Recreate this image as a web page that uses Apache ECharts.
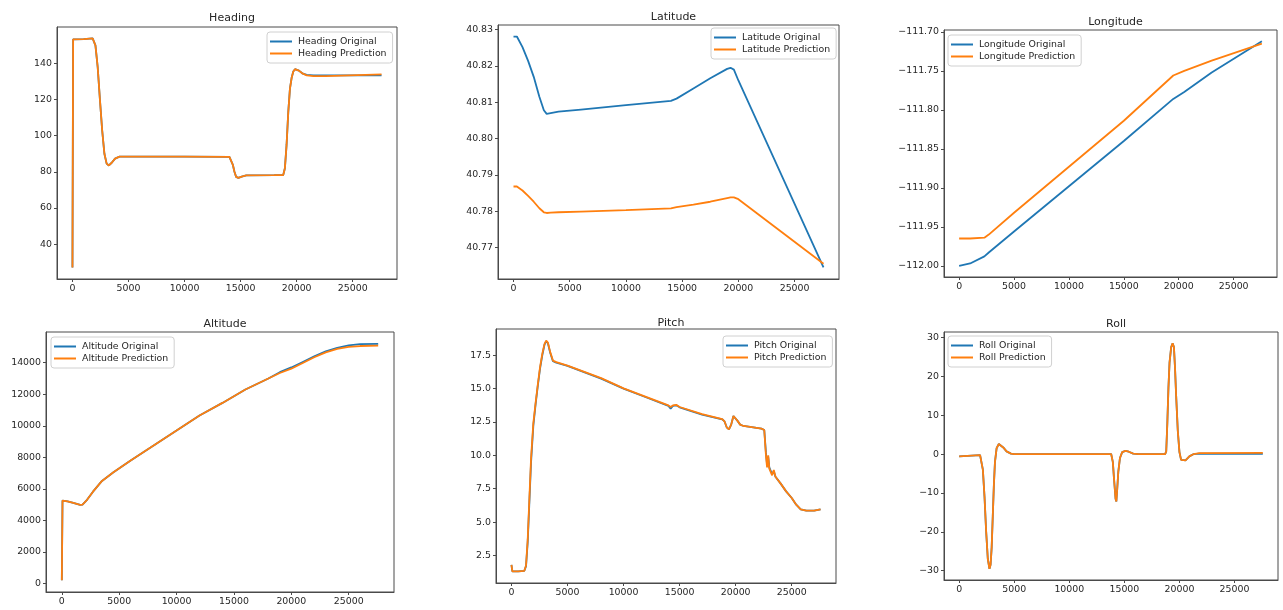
<!DOCTYPE html>
<html>
<head>
<meta charset="utf-8">
<script src="https://cdn.jsdelivr.net/npm/echarts@6/dist/echarts.min.js"></script>
<style>
html,body{margin:0;padding:0;background:#fff;}
#c{width:1283px;height:610px;}
</style>
</head>
<body>
<div id="c"></div>
<script>
// ---------------- DATA ----------------
const xTicks = [0, 5000, 10000, 15000, 20000, 25000];

const headingX    = [0, 60, 1000, 1800, 1900, 2050, 2250, 2450, 2650, 2850, 3050, 3250, 3500, 3800, 4200, 5000, 10000, 14000, 14150, 14300, 14450, 14600, 14800, 15100, 15500, 18000, 18800, 18950, 19100, 19250, 19400, 19550, 19700, 19850, 20000, 20200, 20500, 20900, 21500, 22600, 22700, 27570];
const headingOrig = [27, 153.3, 153.4, 153.8, 153.6, 150, 138, 120, 103, 90, 84.5, 83.5, 85, 87.3, 88.4, 88.4, 88.4, 88.3, 87.5, 84, 80, 77.2, 76.6, 77.3, 78, 78.1, 78.2, 82, 95, 113, 126, 132, 135.5, 136.8, 137.0, 136, 134.5, 133.6, 133.4, 133.4, 133.4, 133.4];
const headingPred = [27, 153.3, 153.4, 153.8, 153.6, 150, 138, 120, 103, 90, 84.5, 83.5, 85, 87.3, 88.4, 88.4, 88.4, 88.3, 87.5, 84, 80, 77.2, 76.6, 77.3, 78, 78.1, 78.2, 82, 95, 113, 126, 132, 135.5, 136.8, 137.0, 136, 134.5, 133.4, 133.0, 133.0, 133.9, 133.9];
const headingTicks = [40, 60, 80, 100, 120, 140];

const latX    = [0, 300, 800, 1300, 1800, 2300, 2700, 2950, 3300, 4000, 6000, 10000, 14000, 14500, 16000, 17500, 19000, 19300, 19600, 20000, 27570];
const latOrig = [40.8281, 40.8281, 40.8252, 40.8214, 40.8170, 40.8115, 40.8078, 40.8068, 40.8070, 40.8074, 40.8080, 40.8092, 40.8104, 40.8110, 40.8138, 40.8166, 40.8192, 40.8195, 40.8190, 40.8160, 40.7645];
const latPred = [40.7868, 40.7868, 40.7857, 40.7842, 40.7826, 40.7808, 40.7797, 40.7795, 40.7796, 40.7797, 40.7799, 40.7803, 40.7808, 40.7811, 40.7818, 40.7826, 40.7836, 40.7838, 40.7838, 40.7833, 40.7655];
const latTicks = [40.77, 40.78, 40.79, 40.80, 40.81, 40.82, 40.83];

const lonX    = [0, 1000, 2300, 2700, 5000, 10000, 15000, 19500, 20500, 23000, 27570];
const lonOrig = [-112.000, -111.997, -111.988, -111.983, -111.956, -111.898, -111.840, -111.786, -111.777, -111.752, -111.712];
const lonPred = [-111.965, -111.965, -111.964, -111.960, -111.932, -111.873, -111.814, -111.756, -111.750, -111.737, -111.715];
const lonTicks = [-112.00, -111.95, -111.90, -111.85, -111.80, -111.75, -111.70];

const altX    = [0, 60, 500, 1000, 1600, 1800, 2200, 2700, 3500, 4500, 6000, 8000, 10000, 12000, 14000, 16000, 18000, 19000, 20000, 21000, 22000, 23000, 24000, 25000, 26000, 27570];
const altOrig = [200, 5250, 5200, 5100, 4980, 5000, 5300, 5800, 6500, 7050, 7800, 8750, 9700, 10650, 11450, 12300, 13000, 13400, 13700, 14050, 14400, 14720, 14950, 15100, 15180, 15200];
const altPred = [200, 5250, 5200, 5100, 4980, 5000, 5300, 5800, 6500, 7050, 7800, 8750, 9700, 10650, 11450, 12300, 13000, 13350, 13620, 13980, 14350, 14660, 14880, 15010, 15060, 15080];
const altTicks = [0, 2000, 4000, 6000, 8000, 10000, 12000, 14000];

const pitchX    = [0, 80, 600, 1150, 1300, 1450, 1600, 1750, 1950, 2150, 2350, 2550, 2750, 2950, 3100, 3250, 3450, 3700, 4000, 5000, 8000, 10000, 12000, 14000, 14200, 14400, 14700, 15000, 17000, 18800, 19000, 19200, 19400, 19600, 19800, 19950, 20150, 20400, 20700, 22300, 22550, 22700, 22800, 22900, 23000, 23100, 23250, 23400, 23550, 24000, 24500, 25000, 25400, 25800, 26300, 27000, 27570];
const pitchOrig = [1.8, 1.3, 1.3, 1.35, 1.7, 3.5, 6.5, 9.5, 12.2, 13.8, 15.2, 16.5, 17.5, 18.3, 18.55, 18.4, 17.7, 17.05, 16.95, 16.7, 15.75, 15.0, 14.35, 13.7, 13.5, 13.7, 13.75, 13.6, 13.05, 12.7, 12.55, 12.1, 11.95, 12.3, 12.95, 13.05, 12.6, 12.3, 12.2, 12.0, 11.9, 10.2, 9.3, 9.9, 9.1, 8.9, 8.6, 8.8, 8.4, 7.9, 7.3, 6.8, 6.3, 5.95, 5.85, 5.85, 5.95];
const pitchPred = [1.8, 1.3, 1.3, 1.35, 1.75, 3.7, 6.8, 9.8, 12.4, 13.9, 15.3, 16.6, 17.6, 18.35, 18.6, 18.45, 17.75, 17.1, 16.98, 16.72, 15.78, 15.02, 14.38, 13.74, 13.62, 13.74, 13.78, 13.62, 13.08, 12.72, 12.55, 12.1, 11.95, 12.3, 12.95, 13.05, 12.6, 12.3, 12.2, 12.0, 11.9, 10.0, 9.1, 10.0, 9.0, 9.0, 8.5, 8.9, 8.4, 7.9, 7.3, 6.8, 6.3, 5.95, 5.85, 5.85, 5.95];
const pitchTicks = [2.5, 5.0, 7.5, 10.0, 12.5, 15.0, 17.5];

const rollX    = [0, 100, 1900, 2000, 2150, 2300, 2450, 2600, 2750, 2850, 2950, 3050, 3150, 3250, 3400, 3600, 3750, 4000, 4300, 4700, 5000, 13800, 13950, 14050, 14200, 14270, 14350, 14450, 14600, 14800, 15100, 15400, 15800, 16300, 18700, 18800, 18900, 19000, 19100, 19250, 19380, 19500, 19600, 19700, 19850, 20000, 20150, 20300, 20550, 20900, 21300, 21800, 27570];
const rollOrig = [-0.6, -0.4, -0.3, -0.8, -4, -11, -20, -27, -29.5, -28.5, -24, -16, -8, -2, 1.5, 2.6, 2.6, 1.7, 0.7, 0.1, 0, 0, -2, -6, -11.5, -12.2, -9, -4.5, -1, 0.5, 0.8, 0.6, 0.1, 0, 0, 0.7, 8, 17, 23.5, 27.5, 28.5, 27.5, 22, 15, 6, 0.5, -1.5, -2, -1.6, -0.6, 0, 0.1, 0.05];
const rollPred = [-0.6, -0.4, -0.3, -0.8, -4, -11, -20, -27, -29.5, -28.5, -24, -16, -8, -2, 1.5, 2.6, 2.6, 1.7, 0.7, 0.1, 0, 0, -2, -6, -11.5, -12.2, -9, -4.5, -1, 0.5, 0.8, 0.6, 0.1, 0, 0, 0.7, 8, 17, 23.5, 27.5, 28.5, 27.5, 22, 15, 6, 0.5, -1.5, -2, -1.6, -0.6, 0, 0.25, 0.3];
const rollTicks = [-30, -20, -10, 0, 10, 20, 30];

// ---------------- LAYOUT ----------------
const FONT = 'DejaVu Sans';
const BLUE = '#1f77b4', ORANGE = '#ff7f0e';
const TXT = '#262626', FRAME = '#4a4a4a';

function minus(s){ return s.replace('-', '\u2212'); }

const panels = [
  {title:'Heading',  names:['Heading Original','Heading Prediction'],   x:headingX, o:headingOrig, p:headingPred, ticks:headingTicks, fmt:v=>minus(String(v)),
   grid:{left:57, top:27, width:340, height:252}, titleY:8, legend:{left:267, top:32}},
  {title:'Latitude', names:['Latitude Original','Latitude Prediction'], x:latX, o:latOrig, p:latPred, ticks:latTicks, fmt:v=>minus(v.toFixed(2)),
   grid:{left:498, top:25, width:341, height:254}, titleY:7, legend:{left:711, top:28}},
  {title:'Longitude',names:['Longitude Original','Longitude Prediction'], x:lonX, o:lonOrig, p:lonPred, ticks:lonTicks, fmt:v=>minus(v.toFixed(2)),
   grid:{left:944, top:30, width:333, height:247}, titleY:12, legend:{left:948, top:35}},
  {title:'Altitude', names:['Altitude Original','Altitude Prediction'], x:altX, o:altOrig, p:altPred, ticks:altTicks, fmt:v=>minus(String(v)),
   grid:{left:46, top:332, width:348, height:260}, titleY:314, legend:{left:51, top:337}},
  {title:'Pitch',    names:['Pitch Original','Pitch Prediction'],       x:pitchX, o:pitchOrig, p:pitchPred, ticks:pitchTicks, fmt:v=>minus(v.toFixed(1)),
   grid:{left:496, top:329, width:340, height:254}, titleY:313, legend:{left:723, top:336}},
  {title:'Roll',     names:['Roll Original','Roll Prediction'],         x:rollX, o:rollOrig, p:rollPred, ticks:rollTicks, fmt:v=>minus(String(v)),
   grid:{left:944, top:332, width:334, height:248}, titleY:314, legend:{left:948, top:336}}
];

function autoRange(arrs){
  let lo = Infinity, hi = -Infinity;
  arrs.forEach(a => a.forEach(v => { if (v < lo) lo = v; if (v > hi) hi = v; }));
  const m = (hi - lo) * 0.05;
  return [lo - m, hi + m];
}

const option = {
  animation: false,
  backgroundColor: '#fff',
  textStyle: {fontFamily: FONT},
  title: [], grid: [], xAxis: [], yAxis: [], legend: [], series: []
};

panels.forEach((P, i) => {
  const g = P.grid;
  option.title.push({
    text: P.title, left: g.left + g.width / 2, top: P.titleY, textAlign: 'center',
    textStyle: {fontFamily: FONT, fontSize: 11, fontWeight: 'normal', color: TXT}
  });
  option.grid.push({left: g.left, top: g.top, width: g.width, height: g.height,
    show: true, borderColor: FRAME, borderWidth: 1, backgroundColor: 'transparent'});
  const xr = autoRange([P.x]);
  const yr = autoRange([P.o, P.p]);
  option.xAxis.push({
    type: 'value', gridIndex: i, min: xr[0], max: xr[1],
    axisLine: {show: true, onZero: false, lineStyle: {color: FRAME, width: 1}},
    axisTick: {show: true, inside: false, length: 3, customValues: xTicks, lineStyle: {color: FRAME}},
    axisLabel: {show: true, customValues: xTicks, margin: 5, fontFamily: FONT, fontSize: 9.4, color: TXT,
      formatter: v => String(v), showMinLabel: true, showMaxLabel: true},
    splitLine: {show: false}
  });
  option.yAxis.push({
    type: 'value', gridIndex: i, min: yr[0], max: yr[1],
    axisLine: {show: true, onZero: false, lineStyle: {color: FRAME, width: 1}},
    axisTick: {show: true, inside: false, length: 3, customValues: P.ticks, lineStyle: {color: FRAME}},
    axisLabel: {show: true, customValues: P.ticks, margin: 5, fontFamily: FONT, fontSize: 9.4, color: TXT,
      formatter: P.fmt},
    splitLine: {show: false}
  });
  option.legend.push({
    orient: 'vertical', left: P.legend.left, top: P.legend.top,
    data: P.names, icon: 'rect', itemWidth: 22, itemHeight: 2, itemGap: 3,
    padding: [5, 6, 5, 3], borderColor: '#d0d0d0', borderWidth: 1, borderRadius: 3,
    backgroundColor: '#fff', selectedMode: false,
    textStyle: {fontFamily: FONT, fontSize: 9.4, color: TXT, padding: [0, 0, 0, 1]}
  });
  [[P.names[0], P.o, BLUE], [P.names[1], P.p, ORANGE]].forEach(([name, ys, col]) => {
    option.series.push({
      name: name, type: 'line', xAxisIndex: i, yAxisIndex: i,
      data: P.x.map((xv, k) => [xv, ys[k]]),
      symbol: 'none', showSymbol: false, smooth: false,
      lineStyle: {color: col, width: 1.8}, itemStyle: {color: col},
      emphasis: {disabled: true}
    });
  });
});

const chart = echarts.init(document.getElementById('c'), null, {renderer: 'canvas'});
chart.setOption(option);
</script>
</body>
</html>
